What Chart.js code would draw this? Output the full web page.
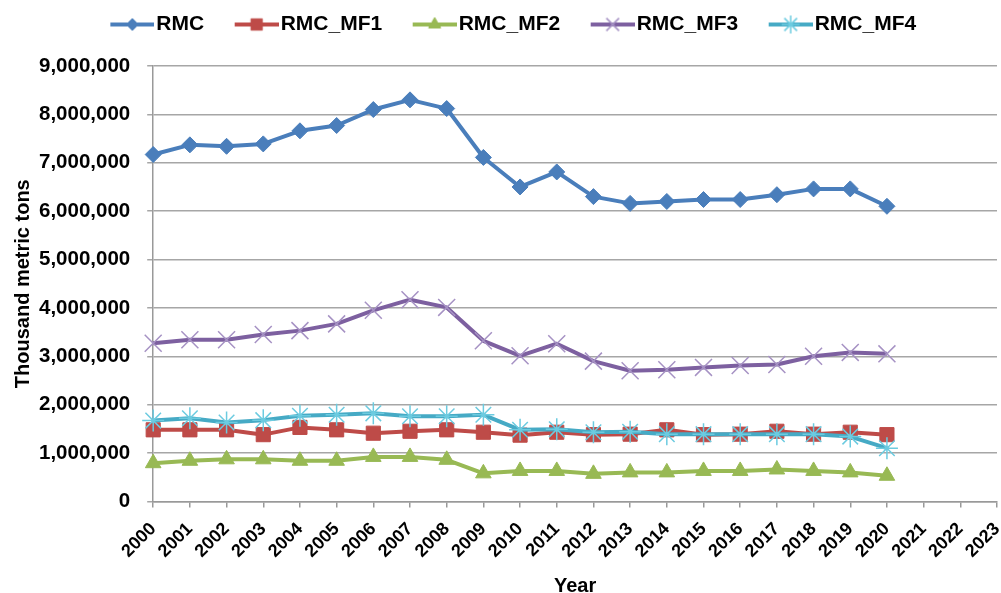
<!DOCTYPE html>
<html>
<head>
<meta charset="utf-8">
<script src="https://cdn.jsdelivr.net/npm/chart.js@4"></script>
<style>
  html, body { margin: 0; padding: 0; background: #fff; }
  #wrap { width: 1001px; height: 593px; }
</style>
</head>
<body>
<div id="wrap"><canvas id="rmcChart"></canvas></div>
<script>
const years = ["2000", "2001", "2002", "2003", "2004", "2005", "2006", "2007", "2008", "2009", "2010",
  "2011", "2012", "2013", "2014", "2015", "2016", "2017", "2018", "2019", "2020", "2021", "2022", "2023"];

const rmc = [7170000, 7370000, 7340000, 7390000, 7660000, 7770000, 8100000, 8300000, 8120000, 7110000, 6500000,
  6810000, 6300000, 6160000, 6200000, 6240000, 6240000, 6340000, 6460000, 6460000, 6100000];
const rmcMf1 = [1480000, 1480000, 1480000, 1380000, 1530000, 1480000, 1410000, 1450000, 1480000, 1430000, 1370000,
  1430000, 1380000, 1390000, 1480000, 1380000, 1390000, 1450000, 1390000, 1430000, 1380000];
const rmcMf2 = [790000, 840000, 870000, 870000, 840000, 840000, 920000, 920000, 860000, 580000, 630000,
  630000, 570000, 600000, 600000, 630000, 630000, 660000, 630000, 600000, 530000];
const rmcMf3 = [3270000, 3340000, 3340000, 3450000, 3530000, 3670000, 3950000, 4170000, 4010000, 3320000, 3010000,
  3260000, 2900000, 2700000, 2720000, 2770000, 2810000, 2830000, 3000000, 3080000, 3050000];
const rmcMf4 = [1670000, 1720000, 1630000, 1680000, 1770000, 1790000, 1820000, 1760000, 1760000, 1790000, 1480000,
  1490000, 1430000, 1440000, 1390000, 1390000, 1390000, 1390000, 1390000, 1340000, 1100000];

const FONT = "'Liberation Sans', Arial, sans-serif";

// legend icon: blank space on the left, then a short line with the marker,
// so the visible part sits right before the label text
const ICON_BOX = 58;
function makeIcon(lineColor, style, radius, fill, stroke, markerWidth) {
  const c = document.createElement("canvas");
  c.width = ICON_BOX + 17;
  c.height = 22;
  const ctx = c.getContext("2d");
  const x0 = c.width - 44;
  ctx.strokeStyle = lineColor;
  ctx.lineWidth = 4;
  ctx.beginPath();
  ctx.moveTo(x0, 11);
  ctx.lineTo(c.width, 11);
  ctx.stroke();
  ctx.fillStyle = fill;
  ctx.strokeStyle = stroke;
  ctx.lineWidth = markerWidth;
  Chart.helpers.drawPoint(ctx, { pointStyle: style, radius: radius, rotation: 0, borderWidth: markerWidth }, x0 + 22, 11);
  return c;
}

const series = [
  { label: "RMC", data: rmc, color: "#4a7ebb", style: "rectRot", r: 8, fill: "#4a7ebb", stroke: "#4a7ebb", bw: 1, legR: 6 },
  { label: "RMC_MF1", data: rmcMf1, color: "#be4b48", style: "rect", r: 10, fill: "#be4b48", stroke: "#be4b48", bw: 1, legR: 8 },
  { label: "RMC_MF2", data: rmcMf2, color: "#98b954", style: "triangle", r: 9, fill: "#98b954", stroke: "#98b954", bw: 1, legR: 7 },
  { label: "RMC_MF3", data: rmcMf3, color: "#7d60a0", style: "crossRot", r: 12, fill: "#a692c4", stroke: "#a692c4", bw: 1.5, legR: 9 },
  { label: "RMC_MF4", data: rmcMf4, color: "#46aac5", style: "star", r: 11, fill: "#6ccbe0", stroke: "#6ccbe0", bw: 1.5, legR: 9 },
];

const datasets = series.map((s, idx) => ({
  label: s.label,
  data: s.data,
  borderColor: s.color,
  backgroundColor: s.fill,
  borderWidth: 4,
  borderJoinStyle: "round",
  tension: 0,
  fill: false,
  pointStyle: s.style,
  pointRadius: s.r,
  pointHoverRadius: s.r,
  pointBackgroundColor: s.fill,
  pointBorderColor: s.stroke,
  pointBorderWidth: s.bw,
  order: series.length - 1 - idx,
}));

const icons = series.map((s) => makeIcon(s.color, s.style, s.legR, s.fill, s.stroke, s.bw));

const ctx = document.getElementById("rmcChart").getContext("2d");
new Chart(ctx, {
  type: "line",
  data: { labels: years, datasets },
  options: {
    responsive: true,
    maintainAspectRatio: false,
    animation: false,
    layout: { autoPadding: false, padding: { top: 6, left: 7, right: 4, bottom: 0 } },
    plugins: {
      tooltip: { enabled: false },
      // empty title sitting between legend and plot, only used as a spacer
      title: {
        display: true,
        text: "",
        weight: 500,
        padding: { top: 5, bottom: 4 },
        font: { family: FONT, size: 10 },
      },
      legend: {
        position: "top",
        labels: {
          usePointStyle: true,
          pointStyleWidth: ICON_BOX,
          padding: 8,
          color: "#000",
          font: { family: FONT, size: 21, weight: "bold" },
          generateLabels: (chart) =>
            chart.data.datasets.map((d, i) => ({
              text: d.label,
              pointStyle: icons[i],
              datasetIndex: i,
              hidden: false,
              lineWidth: 0,
              fontColor: "#000",
            })),
        },
      },
    },
    scales: {
      x: {
        type: "category",
        offset: false,
        grid: { drawOnChartArea: false, drawTicks: true, tickLength: 6, color: "#999", lineWidth: 1.5 },
        border: { color: "#999", width: 1.5 },
        ticks: {
          autoSkip: false,
          maxRotation: 45,
          minRotation: 45,
          padding: 11,
          color: "#000",
          font: { family: FONT, size: 18, weight: "bold" },
        },
        title: {
          display: true,
          text: "Year",
          color: "#000",
          padding: { top: 3, bottom: -3 },
          font: { family: FONT, size: 20, weight: "bold", lineHeight: 1 },
        },
        afterFit: (scale) => {
          scale.paddingRight = 0;
        },
      },
      y: {
        min: 0,
        max: 9000000,
        grid: { color: "#a6a6a6", lineWidth: 1.5, tickLength: 6 },
        border: { color: "#999", width: 1.5 },
        ticks: {
          stepSize: 1000000,
          padding: 17,
          color: "#000",
          font: { family: FONT, size: 20.5, weight: "bold" },
          callback: (v) => v.toLocaleString("en-US"),
        },
        title: {
          display: true,
          text: "Thousand metric tons",
          color: "#000",
          padding: { top: 4, bottom: 4 },
          font: { family: FONT, size: 20, weight: "bold" },
        },
        afterFit: (scale) => {
          scale.width -= 17;
        },
      },
    },
  },
});
</script>
</body>
</html>
